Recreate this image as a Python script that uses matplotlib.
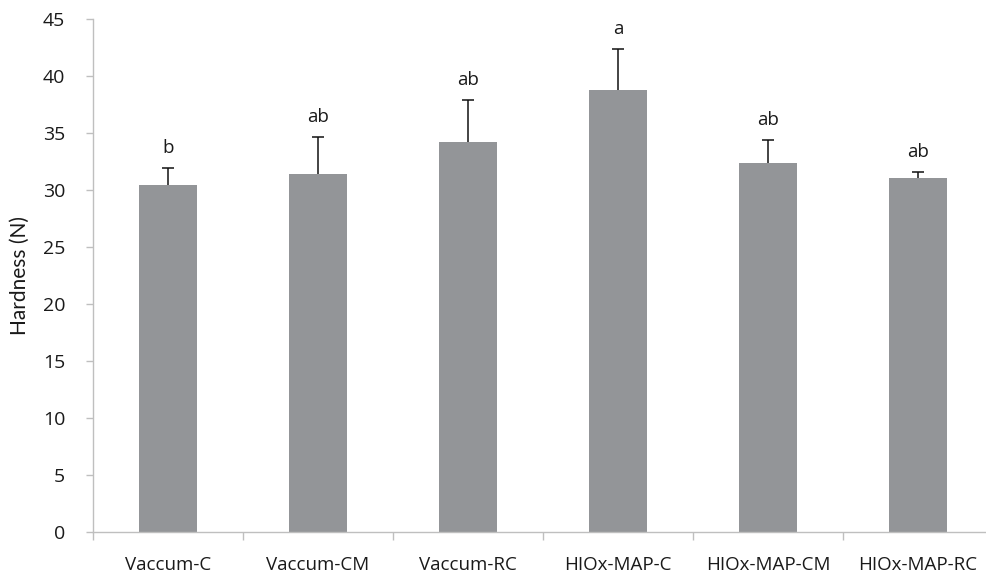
import matplotlib
matplotlib.use("Agg")
import matplotlib.pyplot as plt
import numpy as np

categories = ["Vaccum-C", "Vaccum-CM", "Vaccum-RC", "HIOx-MAP-C", "HIOx-MAP-CM", "HIOx-MAP-RC"]
hardness = [30.44, 31.38, 34.21, 38.77, 32.34, 31.03]
hardness_sd = [1.46, 3.30, 3.68, 3.57, 2.05, 0.57]
letters = ["b", "ab", "ab", "a", "ab", "ab"]
y_ticks = [0, 5, 10, 15, 20, 25, 30, 35, 40, 45]

plt.rcParams["font.family"] = ["Open Sans", "DejaVu Sans"]
text_color = "#1a1a1a"

fig = plt.figure(figsize=(9.86, 5.72), dpi=100)
ax = fig.add_axes([93 / 986, 40 / 572, 900 / 986, 513 / 572])

x = np.arange(len(categories))
ax.bar(x, hardness, width=0.39, color="#939598", zorder=2)
eb = ax.errorbar(x, hardness, yerr=[np.zeros(len(x)), hardness_sd], fmt="none",
                 ecolor="#111111", elinewidth=1.1, capsize=4, capthick=1.1, zorder=3)
# only the upper whisker carries a cap
eb.lines[1][0].set_visible(False)

for xi, h, sd, lab in zip(x, hardness, hardness_sd, letters):
    ax.annotate(lab, (xi, h + sd), xytext=(0, 8), textcoords="offset points",
                ha="center", va="bottom", fontsize=13.5, color=text_color)

ax.set_xlim(-0.5, len(categories) - 0.5)
ax.set_ylim(0, 45)
ax.set_yticks(y_ticks)
ax.set_xticks(x)
ax.set_xticklabels(categories)
ax.set_xticks(np.arange(-0.5, len(categories), 1.0), minor=True)

for side in ("top", "right"):
    ax.spines[side].set_visible(False)
for side in ("left", "bottom"):
    ax.spines[side].set_color("#bfbfbf")
    ax.spines[side].set_linewidth(1.0)

ax.tick_params(axis="y", direction="out", length=5, width=1.0, color="#bfbfbf",
               pad=15, labelsize=14, labelcolor=text_color)
ax.tick_params(axis="x", which="major", length=0, pad=17, labelsize=13.5,
               labelcolor=text_color)
ax.tick_params(axis="x", which="minor", direction="out", length=6, width=1.0,
               color="#bfbfbf")

ax.set_ylabel("Hardness (N)", fontsize=15, color=text_color, labelpad=9,
              family=["Lato", "DejaVu Sans"])

fig.savefig("out.png", dpi=100)
